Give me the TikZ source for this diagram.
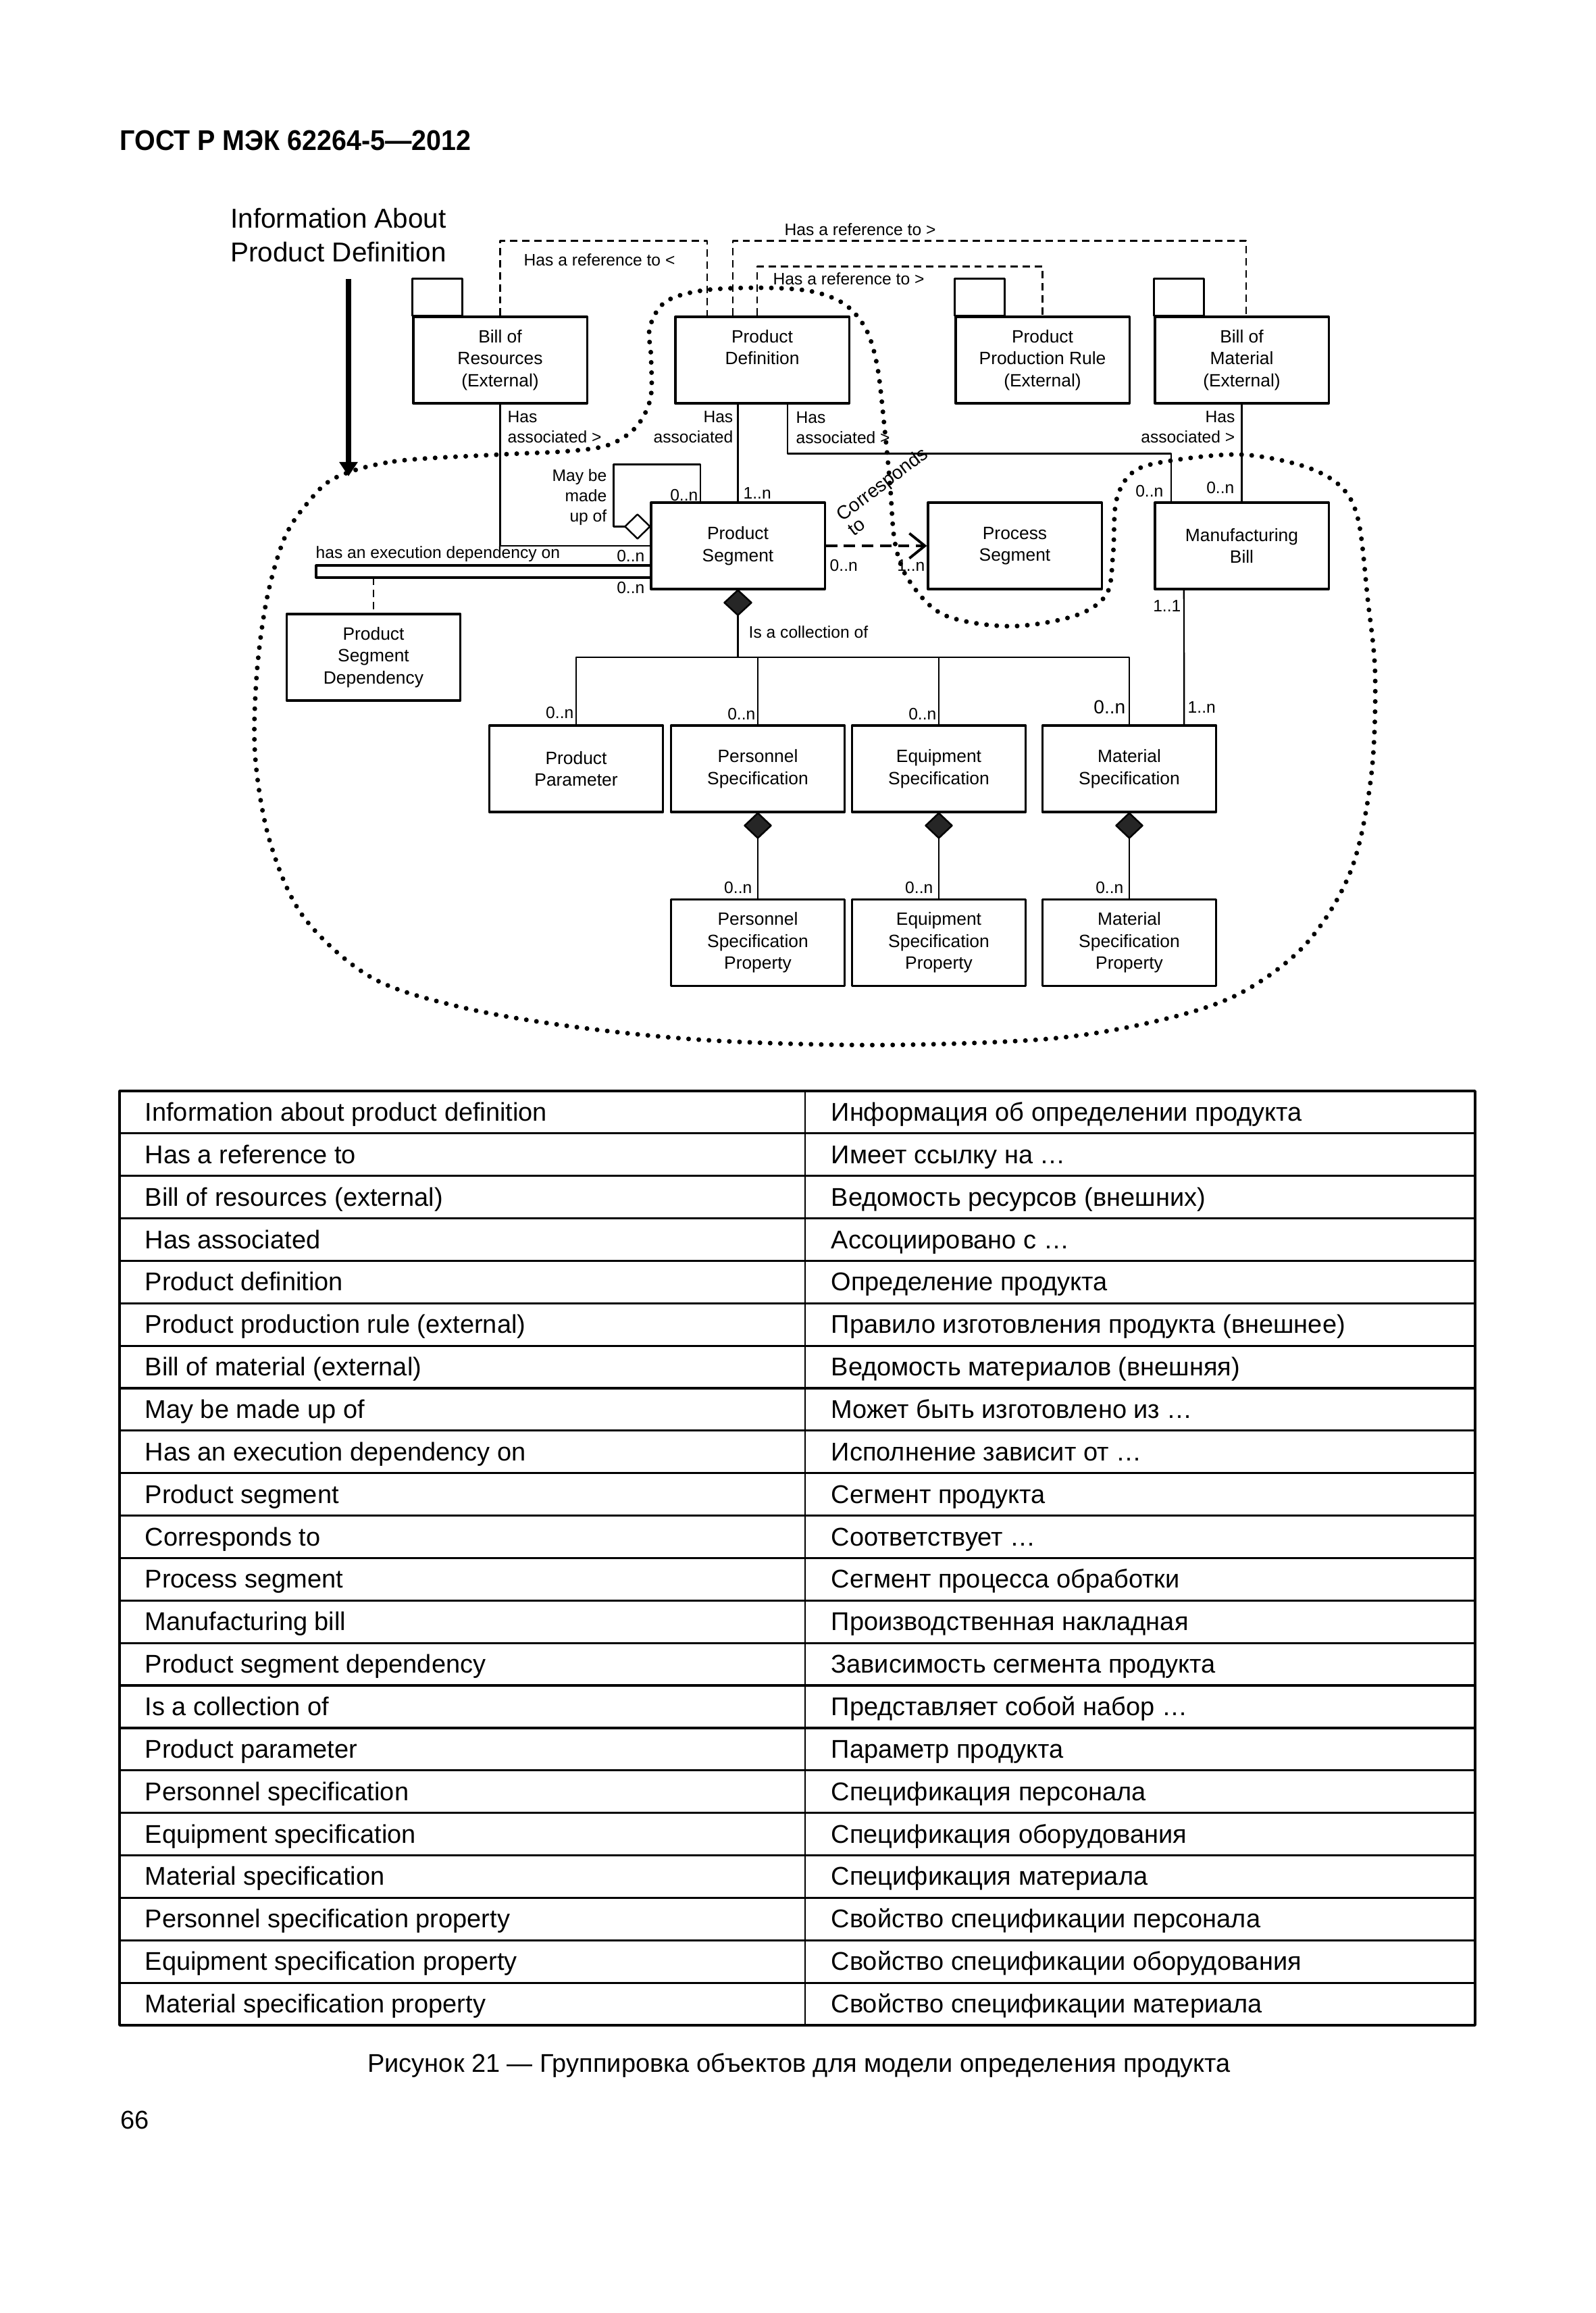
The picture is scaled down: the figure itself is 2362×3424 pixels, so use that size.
\documentclass[tikz,border=0pt]{standalone}
\usepackage{fontspec}
\usepackage{graphicx}
\setmainfont{Liberation Sans}
\usetikzlibrary{arrows.meta}
\newcommand{\boxfont}{\fontsize{7.5}{9.25}\selectfont}
\newcommand{\lblfont}{\fontsize{7}{8.5}\selectfont}
\newcommand{\tabfont}{\fontsize{10.8}{13}\selectfont}
\begin{document}
\begin{tikzpicture}[x=0.01cm,y=-0.01cm,line join=round,
	cls/.style={draw,line width=0.9pt,minimum width=2.57cm,minimum height=1.28cm,inner sep=0pt,align=center,font=\boxfont},
	lbl/.style={inner sep=0pt,font=\lblfont},
	assoc/.style={line width=0.7pt},
	refline/.style={line width=0.7pt,dash pattern=on 3.1pt off 2pt},
	tabline/.style={line width=0.9pt},
	grp/.style={line width=2pt,line cap=round,dash pattern=on 0pt off 4.3pt}]
	\fill[white] (0,0) rectangle (2362,3424);
	\useasboundingbox (0,0) rectangle (2362,3424);
	% === Header ===
	\node[anchor=west,inner sep=0pt,font=\fontsize{12}{14}\selectfont\bfseries] (gost) at (177,208) {\scalebox{0.934}[1]{ГОСТ Р МЭК 62264-5—2012}};
	\node[align=center,inner sep=0pt,font=\fontsize{11.5}{14.2}\selectfont] (info) at (501,348) {Information About\\Product Definition};
	\coordinate (infotop) at (516,413);
	\coordinate (infotip) at (516,705);
	\draw[line width=2pt,-{Triangle[length=6pt,width=7.5pt]}] (infotop) -- (infotip);
	% === Classes ===
	\node[cls] (bor) at (740.5,533) {Bill of\\Resources\\(External)};
	\node[cls] (pd) at (1128.5,533) {Product\\Definition\\\phantom{(External)}};
	\node[cls] (ppr) at (1543.5,533) {Product\\Production Rule\\(External)};
	\node[cls] (bom) at (1838.5,533) {Bill of\\Material\\(External)};
	\node[cls] (ps) at (1092.5,808) {Product\\Segment};
	\node[cls] (procs) at (1502.5,808) {Process\\Segment};
	\node[cls] (mb) at (1838.5,808) {Manufacturing\\Bill};
	\node[cls] (psd) at (553,973) {Product\\Segment\\Dependency};
	\node[cls] (pp) at (853,1138) {Product\\Parameter};
	\node[cls] (pers) at (1122,1138) {Personnel\\Specification};
	\node[cls] (equ) at (1390,1138) {Equipment\\Specification};
	\node[cls] (mat) at (1672,1138) {Material\\Specification};
	\node[cls] (perspr) at (1122,1395.5) {Personnel\\Specification\\Property};
	\node[cls] (equpr) at (1390,1395.5) {Equipment\\Specification\\Property};
	\node[cls] (matpr) at (1672,1395.5) {Material\\Specification\\Property};
	% tabs of the external packages
	\foreach \p in {bor,ppr,bom}
		\draw[line width=0.9pt] (\p.north west) rectangle ++(74,-55);
	% === References ===
	\draw[refline] (bor.north) -- ++(0,-111) -| ([xshift=-0.815cm]pd.north);
	\node[lbl,anchor=west] (ref1) at (775,385) {Has a reference to <};
	\draw[refline] ([xshift=-0.435cm]pd.north) -- ++(0,-111) -| ([xshift=0.065cm]bom.north);
	\node[lbl,anchor=west] (ref2) at (1161,340) {Has a reference to >};
	\draw[refline] ([xshift=-0.075cm]pd.north) -- ++(0,-73) -| (ppr.north);
	\node[lbl,anchor=west] (ref3) at (1144,413) {Has a reference to >};
	% === Has associated ===
	\draw[assoc] (bor.south) |- (ps.west);
	\node[lbl,anchor=west,align=left] (has1) at (751,632) {Has\\associated >};
	\draw[assoc] (pd.south -| ps.north) -- (ps.north);
	\node[lbl,anchor=east,align=right] (has2) at (1086,632) {Has\\associated};
	\node[lbl,anchor=west] at (1100,730) {1..n};
	\draw[assoc] ([xshift=0.375cm]pd.south) -- ++(0,73) -| ([xshift=0.255cm]mb.north west);
	\node[lbl,anchor=west,align=left] (has3) at (1178,633) {Has\\associated >};
	\node[lbl,anchor=east] at (1723,727) {0..n};
	\draw[assoc] (bom.south) -- (mb.north);
	\node[lbl,anchor=east,align=right] (has4) at (1829,632) {Has\\associated >};
	\node[lbl,anchor=east] at (1828,722) {0..n};
	% === May be made up of ===
	\draw[line width=0.7pt,fill=white] ([yshift=-0.37cm]ps.north west) -- ++(-18.5,-18) -- ++(-18.5,18) coordinate (mkL) -- ++(18.5,18) -- cycle;
	\draw[assoc] ([xshift=-0.555cm]ps.north) -- ++(0,-55) -- ++(-128.4,0) |- (mkL);
	\node[lbl,anchor=east,align=right] (made) at (899,736) {May be\\made\\up of};
	\node[lbl,anchor=east] at (1034,733) {0..n};
	% === Execution dependency ===
	\draw[line width=0.9pt] (468,837) rectangle (964,855);
	\coordinate (barbot) at (553,855);
	\draw[refline] (barbot) -- (psd.north);
	\node[lbl,anchor=west] (exe) at (467,820) {has an execution dependency on};
	\node[lbl,anchor=east] at (955,823) {0..n};
	\node[lbl,anchor=east] at (955,870) {0..n};
	% === Corresponds to ===
	\draw[line width=1.1pt,dash pattern=on 4.8pt off 2.8pt,-{Straight Barb[length=6.5pt,width=10.5pt]}] (ps.east) -- (procs.west);
	\node[inner sep=0pt,font=\fontsize{8}{9.5}\selectfont,rotate=37,anchor=base west] (corr) at (1247,773) {Corresponds};
	\node[inner sep=0pt,font=\fontsize{8}{9.5}\selectfont,rotate=37,anchor=base west] (corrto) at (1264,795) {to};
	\node[lbl,anchor=west] at (1228,837) {0..n};
	\node[lbl,anchor=east] at (1370,837) {1..n};
	% === Is a collection of ===
	\draw[line width=0.7pt,fill=black!85] (ps.south) -- ++(20,18.5) -- ++(-20,18.5) coordinate (psdia) -- ++(-20,-18.5) -- cycle;
	\coordinate (bus) at (1092.5,973);
	\draw[assoc] (psdia) -- (bus);
	\draw[assoc] (pp.north) |- (bus) -| (mat.north);
	\draw[assoc] (pers.north) -- (pers.north |- bus);
	\draw[assoc] (equ.north) -- (equ.north |- bus);
	\node[lbl,anchor=west] (coll) at (1108,936) {Is a collection of};
	\node[lbl,anchor=east] at (850,1055) {0..n};
	\node[lbl,anchor=east] at (1119,1057) {0..n};
	\node[lbl,anchor=east] at (1387,1057) {0..n};
	\node[inner sep=0pt,font=\fontsize{8}{9.5}\selectfont,anchor=east] at (1667,1047) {0..n};
	% manufacturing bill to material specification
	\draw[assoc] ([xshift=-0.855cm]mb.south) -- ([xshift=0.81cm]mat.north);
	\node[lbl,anchor=east] at (1749,897) {1..1};
	\node[lbl,anchor=west] at (1758,1047) {1..n};
	% === Properties ===
	\foreach \s/\t in {pers/perspr,equ/equpr,mat/matpr}{
		\draw[line width=0.7pt,fill=black!85] (\s.south) -- ++(19.5,18.5) -- ++(-19.5,18.5) coordinate (\s dia) -- ++(-19.5,-18.5) -- cycle;
		\draw[assoc] (\s dia) -- (\t.north);
		\node[lbl,anchor=east] at ([xshift=-0.08cm,yshift=0.16cm]\t.north) {0..n};
	}
	% === Grouping ===
	\draw[grp] plot[smooth cycle,tension=0.55] coordinates {
		(497,707) (584,683) (737,673) (839,668) (900,659) (941,633) (963,590) (964,530)
		(962,485) (985,447) (1040,430) (1126,426) (1200,431) (1250,450) (1282,487)
		(1299,543) (1310,637) (1318,720) (1325,803) (1345,858) (1397,910) (1494,927)
		(1590,912) (1638,880) (1648,820) (1653,740) (1680,697) (1740,681) (1839,673)
		(1930,690) (1985,720) (2011,770) (2025,887) (2036,1000) (2030,1150) (2000,1289)
		(1933,1398) (1833,1472) (1710,1512) (1550,1538) (1300,1547) (1050,1540)
		(850,1520) (683,1491) (550,1447) (450,1358) (400,1247) (378,1122) (380,1000)
		(395,887) (421,797) (455,745)};
	% === Table ===
	\draw[line width=1pt] (177,1615) rectangle (2184,2998);
	\foreach \r in {1,...,21}
		\draw[tabline] (177,{1615+\r*62.86}) -- (2184,{1615+\r*62.86});
	\draw[line width=0.5pt] (1192,1615) -- (1192,2998);
	\foreach \en/\ru [count=\i from 0] in {
		Information about product definition/Информация об определении продукта,
		Has a reference to/Имеет ссылку на …,
		Bill of resources (external)/Ведомость ресурсов (внешних),
		Has associated/Ассоциировано с …,
		Product definition/Определение продукта,
		Product production rule (external)/Правило изготовления продукта (внешнее),
		Bill of material (external)/Ведомость материалов (внешняя),
		May be made up of/Может быть изготовлено из …,
		Has an execution dependency on/Исполнение зависит от …,
		Product segment/Сегмент продукта,
		Corresponds to/Соответствует …,
		Process segment/Сегмент процесса обработки,
		Manufacturing bill/Производственная накладная,
		Product segment dependency/Зависимость сегмента продукта,
		Is a collection of/Представляет собой набор …,
		Product parameter/Параметр продукта,
		Personnel specification/Спецификация персонала,
		Equipment specification/Спецификация оборудования,
		Material specification/Спецификация материала,
		Personnel specification property/Свойство спецификации персонала,
		Equipment specification property/Свойство спецификации оборудования,
		Material specification property/Свойство спецификации материала}{
		\node[anchor=base west,inner sep=0pt,font=\tabfont] (en\i) at (214,{1615+(\i+0.5)*62.86+13}) {\en};
		\node[anchor=base west,inner sep=0pt,font=\tabfont] (ru\i) at (1230,{1615+(\i+0.5)*62.86+13}) {\ru};
	}
	% === Caption ===
	\node[inner sep=0pt,font=\tabfont] (caption) at (1183,3057) {Рисунок 21 — Группировка объектов для модели определения продукта};
	\node[anchor=west,inner sep=0pt,font=\tabfont] (pagenum) at (178,3138) {66};
\end{tikzpicture}
\end{document}
